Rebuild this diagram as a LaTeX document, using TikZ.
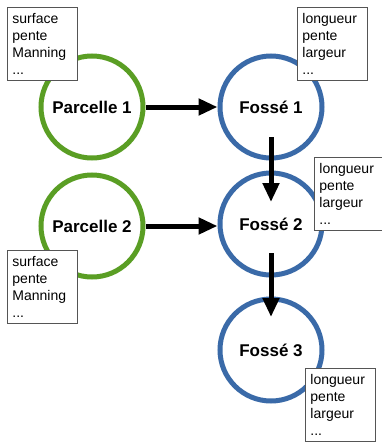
\documentclass[tikz,border=0pt]{standalone}
\usepackage{fontspec}
\setmainfont{Liberation Sans}
\usetikzlibrary{arrows.meta}
\definecolor{pgreen}{HTML}{5A9E24}
\definecolor{fblue}{HTML}{3A6AA8}
\definecolor{boxline}{HTML}{555555}
\tikzset{
  x=1pt, y=-1pt,
  bubble/.style={circle, line width=5pt, minimum size=102pt, inner sep=0pt, fill=white,
    font=\fontsize{17}{20}\selectfont\bfseries},
  parcel/.style={bubble, draw=pgreen},
  ditch/.style={bubble, draw=fblue},
  infobox/.style={draw=boxline, line width=0.9pt, fill=white, anchor=north west,
    minimum width=70pt, minimum height=73pt, text width=60pt, inner xsep=5pt,
    align=left, font=\fontsize{14}{16.7}\selectfont},
  flow/.style={line width=5pt, -{Triangle[length=19pt,width=16pt]}}
}
\begin{document}
\begin{tikzpicture}
\useasboundingbox (0,0) rectangle (382,442);
\node[parcel] (P1) at (92,107) {Parcelle 1};
\node[parcel] (P2) at (92,226) {Parcelle 2};
\node[ditch] (F1) at (271,107) {Fossé 1};
\node[ditch] (F2) at (271,224) {Fossé 2};
\node[ditch] (F3) at (271,350) {Fossé 3};
\node[infobox] (B1) at (7,7) {surface\\pente\\Manning\\...};
\node[infobox] (B2) at (7,250) {surface\\pente\\Manning\\...};
\node[infobox] (B3) at (297,7) {longueur\\pente\\largeur\\...};
\node[infobox, minimum width=67pt] (B4) at (314,157) {longueur\\pente\\largeur\\...};
\node[infobox] (B5) at (305,368) {longueur\\pente\\largeur\\...};
\draw[flow] (P1.east) -- (F1.west);
\draw[flow] (P2.east) -- (F2.west |- P2.east);
\draw[flow] ([yshift=-30pt]F1.center) -- ([yshift=22pt]F2.center);
\draw[flow] ([yshift=-29pt]F2.center) -- ([yshift=33pt]F3.center);
\end{tikzpicture}
\end{document}
